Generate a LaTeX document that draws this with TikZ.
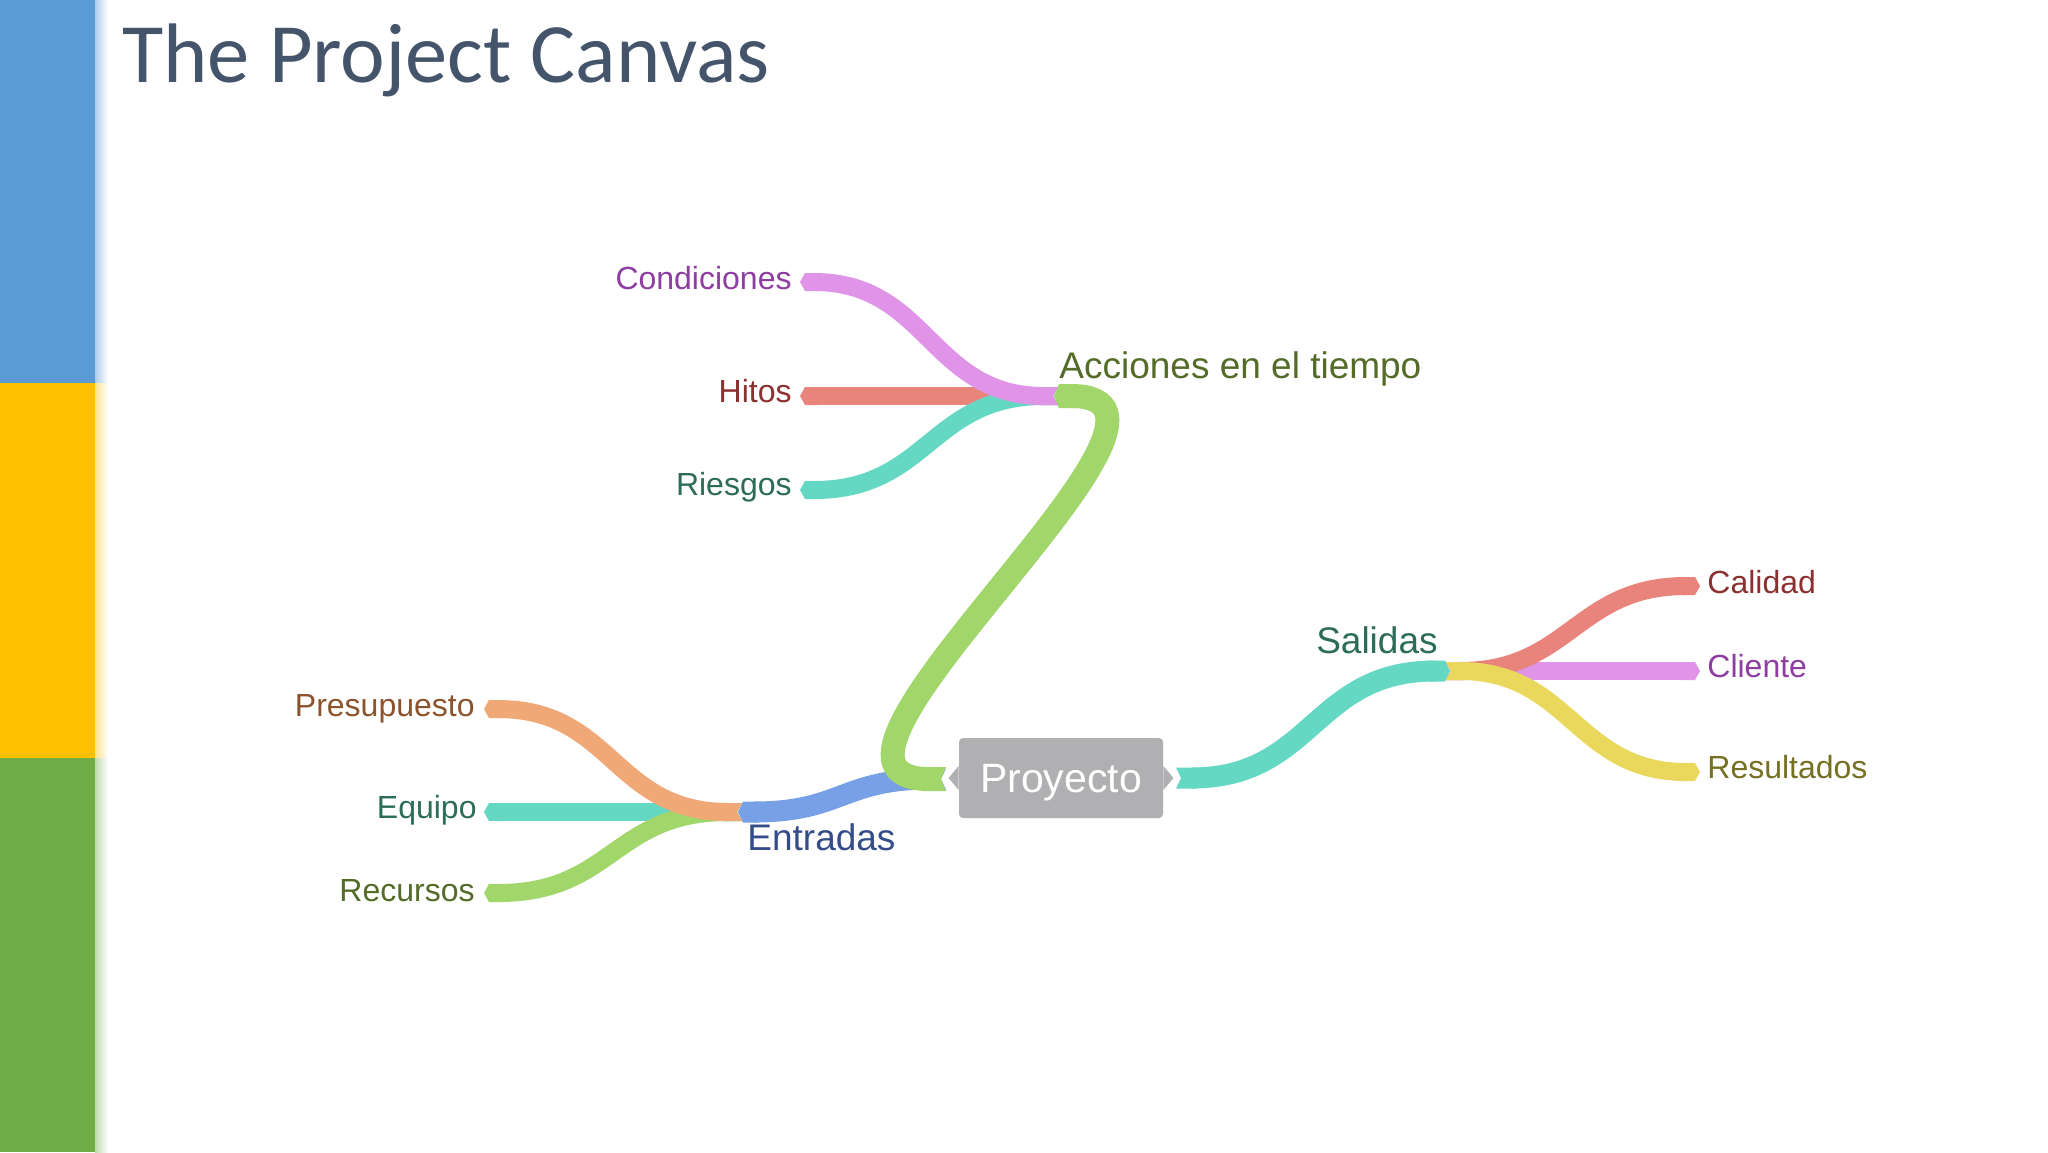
\documentclass[tikz,border=0pt]{standalone}
\usepackage{fontspec}
\setmainfont{Liberation Sans}
\newfontfamily\titlefont{Carlito}
\usetikzlibrary{arrows.meta}

\definecolor{stripblue}{RGB}{91,155,213}
\definecolor{stripyellow}{RGB}{255,192,0}
\definecolor{stripgreen}{RGB}{112,173,71}
\definecolor{titlegray}{RGB}{68,84,106}
\definecolor{ribpink}{RGB}{224,148,232}
\definecolor{ribred}{RGB}{232,132,124}
\definecolor{ribteal}{RGB}{100,216,194}
\definecolor{ribgreen}{RGB}{160,214,106}
\definecolor{riborange}{RGB}{240,168,118}
\definecolor{ribblue}{RGB}{120,160,230}
\definecolor{ribyellow}{RGB}{234,216,92}
\definecolor{proygray}{RGB}{176,175,178}
\definecolor{txtpurple}{RGB}{142,62,160}
\definecolor{txtred}{RGB}{140,48,48}
\definecolor{txtteal}{RGB}{44,108,88}
\definecolor{txtgreen}{RGB}{84,108,40}
\definecolor{txtbrown}{RGB}{140,84,44}
\definecolor{txtblue}{RGB}{52,76,136}
\definecolor{txtolive}{RGB}{118,112,34}

\tikzset{
  ribbon/.style={line width=9pt, {Triangle Cap[reversed,length=2.5pt]}-{Triangle Cap[length=2.5pt]}},
  leaflabel/.style={inner sep=0pt, font=\fontsize{16}{19}\selectfont},
  midlabel/.style={inner sep=0pt, font=\fontsize{18.5}{22}\selectfont},
  proybox/.style={fill=proygray, rounded corners=2pt, minimum width=102pt, minimum height=40pt, inner sep=0pt, text depth=0pt, text=white, font=\fontsize{20.5}{24}\selectfont},
}

\begin{document}
\begin{tikzpicture}[x=0.5pt,y=-0.5pt]
\useasboundingbox (0,0) rectangle (2048,1152);
\fill[white] (0,0) rectangle (2048,1152);
\fill[stripblue] (0,0) rectangle (95,383);
\fill[stripyellow] (0,383) rectangle (95,758);
\fill[stripgreen] (0,758) rectangle (95,1152);
\shade[left color=stripblue!50, right color=white] (95,0) rectangle (108,383);
\shade[left color=stripyellow!45, right color=white] (95,383) rectangle (108,758);
\shade[left color=stripgreen!45, right color=white] (95,758) rectangle (108,1152);
\node (title) at (122,82) [anchor=base west, inner sep=0pt, text=titlegray, font=\titlefont\fontsize{42.25}{50}\selectfont] {The Project Canvas};

\coordinate (proyW) at (946,779);
\coordinate (accJ) at (1054,396);
\coordinate (entJ) at (738,812);
\coordinate (condT) at (800,282);
\coordinate (hitosT) at (800,396);
\coordinate (riesT) at (800,490);
\coordinate (presT) at (484,709);
\coordinate (equiT) at (484,812);
\coordinate (recuT) at (484,893);
\coordinate (proyE) at (1176,778);
\coordinate (salJ) at (1450,671);
\coordinate (caliT) at (1700,586);
\coordinate (clieT) at (1700,671);
\coordinate (resuT) at (1700,772);

\draw[ribbon, ribblue, line width=10.5pt] (proyW) .. controls +(-104,0) and +(104,0) .. (entJ);
\draw[ribbon, ribgreen, line width=12pt] (proyW) .. controls +(-185,0) and +(185,0) .. (accJ);
\draw[ribbon, ribred] ([xshift=2pt]accJ) -- (hitosT);
\draw[ribbon, ribteal] ([xshift=2pt]accJ) .. controls +(-128,0) and +(128,0) .. (riesT);
\draw[ribbon, ribpink] ([xshift=2pt]accJ) .. controls +(-128,0) and +(128,0) .. (condT);
\draw[ribbon, ribteal] ([xshift=2pt]entJ) -- (equiT);
\draw[ribbon, ribgreen] ([xshift=2pt]entJ) .. controls +(-129,0) and +(129,0) .. (recuT);
\draw[ribbon, riborange] ([xshift=2pt]entJ) .. controls +(-129,0) and +(129,0) .. (presT);
\draw[ribbon, ribteal, line width=10.5pt] (proyE) .. controls +(137,0) and +(-137,0) .. (salJ);
\draw[ribbon, ribpink] ([xshift=-2pt]salJ) -- (clieT);
\draw[ribbon, ribred] ([xshift=-2pt]salJ) .. controls +(124,0) and +(-124,0) .. (caliT);
\draw[ribbon, ribyellow] ([xshift=-2pt]salJ) .. controls +(124,0) and +(-124,0) .. (resuT);

\node (proy) at (1061,778) [proybox] {Proyecto};
\fill[proygray] ([yshift=-6pt]proy.west) -- ++(-5pt,6pt) -- ++(5pt,6pt) -- cycle;
\fill[proygray] ([yshift=-6pt]proy.east) -- ++(5pt,6pt) -- ++(-5pt,6pt) -- cycle;

\node (acc) [midlabel, anchor=base west, text=txtgreen] at ([shift={(5,-18)}]accJ) {Acciones en el tiempo};
\node (ent) [midlabel, anchor=base west, text=txtblue] at ([shift={(9,38)}]entJ) {Entradas};
\node (sal) [midlabel, anchor=base east, text=txtteal] at ([shift={(-12,-18)}]salJ) {Salidas};

\node (cond) [leaflabel, anchor=base east, text=txtpurple] at ([shift={(-8,7)}]condT) {Condiciones};
\node (hitos) [leaflabel, anchor=base east, text=txtred] at ([shift={(-8,6)}]hitosT) {Hitos};
\node (ries) [leaflabel, anchor=base east, text=txtteal] at ([shift={(-8,5)}]riesT) {Riesgos};
\node (pres) [leaflabel, anchor=base east, text=txtbrown] at ([shift={(-9,7)}]presT) {Presupuesto};
\node (equi) [leaflabel, anchor=base east, text=txtteal] at ([shift={(-7,6)}]equiT) {Equipo};
\node (recu) [leaflabel, anchor=base east, text=txtgreen] at ([shift={(-9,8)}]recuT) {Recursos};
\node (cali) [leaflabel, anchor=base west, text=txtred] at ([shift={(7,7)}]caliT) {Calidad};
\node (clie) [leaflabel, anchor=base west, text=txtpurple] at ([shift={(7,6)}]clieT) {Cliente};
\node (resu) [leaflabel, anchor=base west, text=txtolive] at ([shift={(7,6)}]resuT) {Resultados};
\end{tikzpicture}
\end{document}
